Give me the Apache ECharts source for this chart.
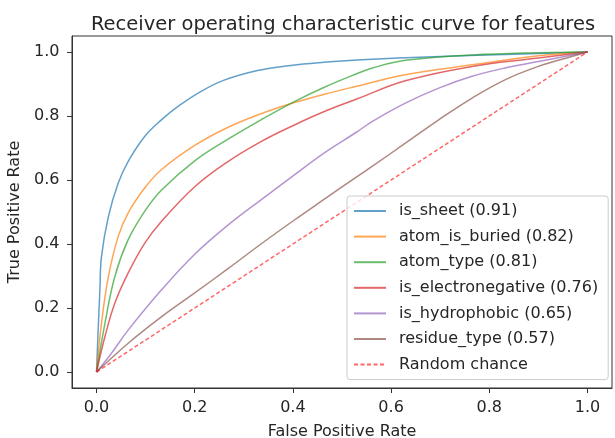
<!DOCTYPE html>
<html>
<head>
  <meta charset="UTF-8"/>
  <title>ROC</title>
  <script src="https://cdn.jsdelivr.net/npm/echarts@6/dist/echarts.min.js"></script>
  <style>
    html, body { margin: 0; padding: 0; background: #fff; }
    #main { width: 615px; height: 438px; }
  </style>
</head>
<body>
<div id="main"></div>
<script type="text/javascript">
    // curves: [false positive rate, true positive rate]
    const isSheet = [[0, 0], [0.003, 0.12], [0.0068, 0.256], [0.010, 0.36], [0.024, 0.485], [0.044, 0.59],
        [0.064, 0.657], [0.098, 0.736], [0.132, 0.788], [0.166, 0.83], [0.213, 0.877], [0.26, 0.912],
        [0.328, 0.942], [0.396, 0.958], [0.464, 0.968], [0.53, 0.975], [0.7, 0.986], [0.85, 0.993], [1, 1]];
    const atomIsBuried = [[0, 0], [0.010, 0.151], [0.024, 0.297], [0.044, 0.423], [0.064, 0.496], [0.098, 0.575],
        [0.132, 0.632], [0.2, 0.708], [0.267, 0.764], [0.335, 0.807], [0.403, 0.842], [0.464, 0.868],
        [0.53, 0.893], [0.629, 0.929], [0.765, 0.96], [0.9, 0.988], [1, 1]];
    const atomType = [[0, 0], [0.017, 0.151], [0.037, 0.297], [0.064, 0.412], [0.098, 0.502], [0.132, 0.568],
        [0.2, 0.66], [0.267, 0.727], [0.335, 0.788], [0.403, 0.845], [0.464, 0.89], [0.53, 0.932],
        [0.562, 0.95], [0.629, 0.974], [0.765, 0.991], [1, 1]];
    const isElectronegative = [[0, 0], [0.017, 0.11], [0.037, 0.214], [0.064, 0.308], [0.098, 0.402],
        [0.132, 0.47], [0.2, 0.579], [0.267, 0.657], [0.335, 0.72], [0.403, 0.772], [0.464, 0.814],
        [0.53, 0.853], [0.629, 0.91], [0.765, 0.955], [0.9, 0.981], [1, 1]];
    const isHydrophobic = [[0, 0], [0.03, 0.058], [0.064, 0.13], [0.132, 0.256], [0.2, 0.368], [0.267, 0.458],
        [0.335, 0.538], [0.403, 0.616], [0.464, 0.685], [0.53, 0.75], [0.562, 0.783], [0.629, 0.84],
        [0.697, 0.887], [0.765, 0.924], [0.832, 0.95], [0.9, 0.97], [1, 1]];
    const residueType = [[0, 0], [0.064, 0.089], [0.132, 0.172], [0.2, 0.247], [0.267, 0.322], [0.335, 0.4],
        [0.403, 0.475], [0.464, 0.54], [0.53, 0.61], [0.562, 0.643], [0.629, 0.715], [0.697, 0.788],
        [0.765, 0.856], [0.832, 0.913], [0.9, 0.955], [0.968, 0.986], [1, 1]];
    const randomChance = [[0, 0], [1, 1]];

    const names = ['is_sheet (0.91)', 'atom_is_buried (0.82)', 'atom_type (0.81)', 'is_electronegative (0.76)',
        'is_hydrophobic (0.65)', 'residue_type (0.57)', 'Random chance'];
    const colors = ['#1f77b4', '#ff7f0e', '#2ca02c', '#d62728', '#9467bd', '#8c564b', '#ff0000'];
    const curves = [isSheet, atomIsBuried, atomType, isElectronegative, isHydrophobic, residueType, randomChance];
    const ticks = [0, 0.2, 0.4, 0.6, 0.8, 1.0];

    const font = 'DejaVu Sans';
    let myChart = echarts.init(document.getElementById('main'));

    // shared settings for both axes (matplotlib look)
    function axis(name, gap, margin) {
        return {
            type: 'value',
            min: -0.05,
            max: 1.05,
            name: name,
            nameLocation: 'middle',
            nameGap: gap,
            nameTextStyle: {fontFamily: font, fontSize: 16, color: '#262626'},
            axisLine: {show: true, onZero: false, lineStyle: {color: '#333', width: 1}},
            axisTick: {show: true, length: 5, customValues: ticks, lineStyle: {color: '#333'}},
            axisLabel: {
                customValues: ticks, fontFamily: font, fontSize: 16, color: '#262626', margin: margin,
                formatter: v => v.toFixed(1)
            },
            splitLine: {show: false}
        };
    }

    let series = curves.map((d, i) => ({
        name: names[i],
        type: 'line',
        data: d,
        smooth: i < 6 ? 0.4 : false,
        symbol: 'none',
        animation: false,
        lineStyle: {
            color: colors[i],
            width: 1.5,
            opacity: i < 6 ? 0.7 : 0.6,
            type: i < 6 ? 'solid' : [4, 2.5]
        },
        itemStyle: {color: colors[i]}
    }));

    let option = {
        backgroundColor: '#fff',
        title: {
            text: 'Receiver operating characteristic curve for features',
            left: 338,
            textAlign: 'center',
            top: 10,
            textStyle: {fontFamily: font, fontSize: 19.5, fontWeight: 'normal', color: '#262626'}
        },
        grid: {
            left: 72, right: 3, top: 36, bottom: 50,
            outerBoundsMode: 'none',
            containLabel: false,
            show: true, borderColor: '#333', borderWidth: 1, backgroundColor: 'transparent'
        },
        legend: {
            data: names,
            orient: 'vertical',
            left: 347,
            top: 196,
            padding: [7, 10, 7, 6],
            itemWidth: 32,
            itemHeight: 14,
            itemGap: 9.6,
            itemStyle: {opacity: 0},
            backgroundColor: 'rgba(255,255,255,0.8)',
            borderColor: '#cccccc',
            borderWidth: 1,
            borderRadius: 3,
            textStyle: {fontFamily: font, fontSize: 16, color: '#262626', padding: [0, 0, 0, 8]}
        },
        xAxis: axis('False Positive Rate', 36, 11.5),
        yAxis: axis('True Positive Rate', 42, 12.5),
        series: series
    };
    myChart.setOption(option);
</script>
</body>
</html>
